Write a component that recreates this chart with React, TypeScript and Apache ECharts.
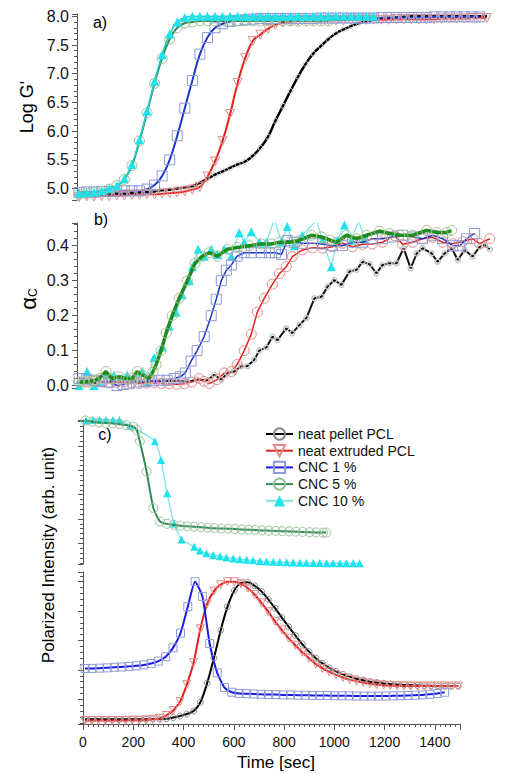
import React, { useEffect, useRef } from "react";
import * as echarts from "echarts";

const NAMES = ["neat pellet PCL", "neat extruded PCL", "CNC 1 %", "CNC 5 %", "CNC 10 %"];

// ---------- panel a) Log G' ----------
const timeA = [8, 38, 68, 98, 128, 158, 188, 218, 248, 278, 308, 338, 368, 398, 428, 458, 488, 518, 548, 578,
  608, 638, 668, 698, 728, 758, 788, 818, 848, 878, 908, 938, 968, 998, 1028, 1058, 1088, 1118, 1148, 1178,
  1208, 1238, 1268, 1298, 1328, 1358, 1388, 1418, 1448, 1478, 1508, 1538, 1568, 1598, 1628];
const logG_pellet = [4.86, 4.87, 4.88, 4.89, 4.9, 4.91, 4.91, 4.92, 4.93, 4.94, 4.95, 4.97, 4.98, 5.0, 5.02, 5.04,
  5.1, 5.17, 5.24, 5.3, 5.36, 5.42, 5.47, 5.57, 5.71, 5.9, 6.18, 6.44, 6.7, 6.95, 7.17, 7.35, 7.48, 7.6, 7.7, 7.77,
  7.83, 7.88, 7.91, 7.94, 7.96, 7.97, 7.98, 7.99, 8.0, 8.0, 8.0, 8.0, 8.0, 8.0, 8.0, 8.0, 8.0, 8.0, 8.0];
const logG_extruded = [4.85, 4.86, 4.86, 4.87, 4.87, 4.88, 4.88, 4.89, 4.89, 4.9, 4.9, 4.91, 4.92, 4.93, 4.95, 4.98,
  5.03, 5.21, 5.47, 5.83, 6.3, 6.84, 7.27, 7.57, 7.68, 7.78, 7.85, 7.89, 7.91, 7.92, 7.93, 7.93, 7.93, 7.93, 7.93,
  7.93, 7.94, 7.94, 7.94, 7.94, 7.94, 7.94, 7.95, 7.95, 7.95, 7.95, 7.95, 7.95, 7.96, 7.96, 7.96, 7.96, 7.97, 7.97, 7.97];
const logG_cnc1 = [4.93, 4.94, 4.94, 4.95, 4.95, 4.95, 4.96, 4.96, 4.96, 4.99, 5.06, 5.22, 5.5, 5.92, 6.4, 6.88, 7.34,
  7.63, 7.8, 7.87, 7.91, 7.93, 7.94, 7.95, 7.96, 7.96, 7.96, 7.96, 7.96, 7.96, 7.96, 7.96, 7.97, 7.97, 7.97, 7.97,
  7.97, 7.97, 7.97, 7.97, 7.98, 7.98, 7.98, 7.98, 7.98, 7.98, 7.98, 7.99, 7.99, 7.99, 7.99, 7.99, 7.99, 7.99];
const logG_cnc5 = [4.9, 4.92, 4.93, 4.95, 4.99, 5.05, 5.16, 5.4, 5.83, 6.32, 6.83, 7.27, 7.6, 7.8, 7.88, 7.9, 7.92,
  7.92, 7.92, 7.92, 7.92, 7.92, 7.92, 7.92, 7.92, 7.92, 7.92, 7.92, 7.92, 7.92, 7.92, 7.92, 7.92, 7.92];
const logG_cnc10 = [4.92, 4.93, 4.94, 4.96, 5.0, 5.05, 5.17, 5.42, 5.85, 6.35, 6.87, 7.33, 7.69, 7.9, 7.98, 8.0, 8.0,
  8.0, 8.0, 8.0, 8.0, 8.0, 8.0, 8.0, 8.0, 8.0, 8.0, 8.0, 8.0, 8.0, 8.0, 8.0, 8.0, 8.0, 8.0, 8.0, 8.0, 8.0, 8.0, 8.0];

// ---------- panel b) alpha_c : [time, value] ----------
const alpha_pellet = [[8, 0.01], [40, 0.012], [72, 0.008], [104, 0.01], [136, 0.012], [168, 0.01], [200, 0.009],
  [232, 0.012], [264, 0.01], [296, 0.012], [326, 0.012], [356, 0.013], [386, 0.014], [438, 0.011], [477, 0.017],
  [517, 0.015], [545, 0.031], [573, 0.017], [597, 0.036], [625, 0.04], [652, 0.055], [676, 0.055], [704, 0.074],
  [724, 0.1], [752, 0.109], [776, 0.14], [796, 0.13], [831, 0.164], [855, 0.15], [883, 0.173], [911, 0.193],
  [943, 0.25], [971, 0.254], [995, 0.283], [1022, 0.302], [1050, 0.288], [1082, 0.326], [1110, 0.331],
  [1134, 0.354], [1162, 0.347], [1189, 0.321], [1213, 0.345], [1241, 0.35], [1269, 0.35], [1297, 0.393],
  [1325, 0.335], [1349, 0.378], [1372, 0.393], [1408, 0.378], [1432, 0.354], [1460, 0.378], [1488, 0.393],
  [1512, 0.359], [1539, 0.388], [1571, 0.369], [1599, 0.397], [1619, 0.402], [1639, 0.39]];
const alpha_extruded = [[8, 0.01], [38, 0.011], [68, 0.012], [98, 0.01], [127, 0.008], [157, 0.009], [187, 0.01],
  [217, 0.008], [247, 0.006], [276, 0.007], [306, 0.008], [336, 0.006], [366, 0.005], [396, 0.004], [426, 0.005],
  [456, 0.01], [485, 0.02], [505, 0.012], [525, 0.006], [557, 0.017], [585, 0.036], [613, 0.04], [636, 0.06],
  [664, 0.1], [692, 0.147], [716, 0.21], [744, 0.25], [776, 0.29], [804, 0.32], [831, 0.34], [855, 0.369],
  [895, 0.388], [935, 0.394], [975, 0.393], [1014, 0.397], [1054, 0.407], [1094, 0.397], [1134, 0.404],
  [1173, 0.405], [1213, 0.41], [1261, 0.429], [1293, 0.404], [1333, 0.41], [1372, 0.42], [1412, 0.424],
  [1452, 0.41], [1492, 0.406], [1531, 0.412], [1571, 0.42], [1599, 0.406], [1639, 0.42]];
const alpha_cnc1 = [[8, 0.02], [38, 0.018], [68, 0.015], [98, 0.012], [127, 0.01], [159, 0.0], [183, 0.003],
  [207, 0.005], [236, 0.01], [266, 0.012], [296, 0.014], [326, 0.015], [358, 0.015], [386, 0.02], [410, 0.025],
  [430, 0.036], [453, 0.07], [477, 0.1], [505, 0.14], [533, 0.2], [553, 0.247], [573, 0.3], [593, 0.33],
  [613, 0.345], [636, 0.37], [664, 0.38], [692, 0.38], [732, 0.38], [764, 0.38], [788, 0.38], [812, 0.375],
  [835, 0.415], [863, 0.41], [895, 0.407], [935, 0.407], [975, 0.405], [1014, 0.4], [1054, 0.4], [1094, 0.41],
  [1134, 0.41], [1173, 0.42], [1213, 0.42], [1253, 0.425], [1293, 0.43], [1333, 0.425], [1372, 0.42],
  [1412, 0.43], [1452, 0.42], [1492, 0.4], [1520, 0.4], [1547, 0.42], [1579, 0.435]];
const alpha_cnc5 = [[8, 0.01], [28, 0.01], [48, 0.01], [68, 0.015], [88, 0.02], [115, 0.04], [139, 0.02],
  [167, 0.025], [195, 0.02], [219, 0.02], [239, 0.04], [259, 0.03], [286, 0.02], [302, 0.04], [314, 0.06],
  [334, 0.1], [354, 0.15], [378, 0.2], [406, 0.25], [438, 0.3], [469, 0.35], [497, 0.37], [525, 0.38],
  [557, 0.37], [597, 0.39], [636, 0.395], [684, 0.4], [732, 0.405], [772, 0.405], [804, 0.41], [843, 0.41],
  [883, 0.415], [931, 0.43], [971, 0.425], [1006, 0.416], [1030, 0.41], [1070, 0.43], [1110, 0.42],
  [1150, 0.43], [1201, 0.442], [1241, 0.435], [1281, 0.43], [1333, 0.43], [1388, 0.444], [1428, 0.438],
  [1468, 0.438], [1488, 0.444]];
const alpha_cnc10 = [[8, 0.0], [40, 0.04], [68, 0.0], [91, 0.01], [119, 0.03], [147, 0.03], [175, 0.02],
  [199, 0.03], [227, 0.025], [259, 0.04], [278, 0.01], [306, 0.08], [338, 0.11], [366, 0.17], [394, 0.21],
  [418, 0.26], [446, 0.3], [458, 0.34], [481, 0.39], [505, 0.37], [533, 0.39], [557, 0.375], [585, 0.39],
  [613, 0.37], [644, 0.437], [664, 0.41], [692, 0.44], [724, 0.41], [752, 0.41], [784, 0.476], [812, 0.41],
  [835, 0.455], [863, 0.4], [895, 0.43], [951, 0.473], [975, 0.416], [1010, 0.34], [1034, 0.416],
  [1062, 0.459], [1090, 0.416], [1118, 0.473], [1142, 0.42]];

// ---------- panel c) polarized intensity (arb. unit) ----------
const timeC = [8, 35, 62, 89, 116, 143, 170, 197, 224, 251, 278, 305, 332, 359, 386, 413, 440, 467, 494, 521, 548,
  575, 602, 629, 656, 683, 710, 737, 764, 791, 818, 845, 872, 899, 926, 953, 980, 1007, 1034, 1061, 1088, 1115,
  1142, 1169, 1196, 1223, 1250, 1277, 1304, 1331, 1358, 1385, 1412, 1439, 1466, 1493];
const pi_pellet = [-0.68, -0.68, -0.68, -0.68, -0.68, -0.68, -0.68, -0.68, -0.68, -0.68, -0.67, -0.67, -0.66, -0.62,
  -0.57, -0.5, -0.4, -0.1, 0.55, 1.4, 2.35, 3.15, 3.7, 3.96, 3.98, 3.86, 3.67, 3.4, 3.1, 2.78, 2.47, 2.17, 1.88, 1.62,
  1.4, 1.22, 1.07, 0.95, 0.85, 0.77, 0.7, 0.65, 0.6, 0.57, 0.54, 0.52, 0.5, 0.49, 0.48, 0.47, 0.46, 0.46, 0.45, 0.45,
  0.45, 0.45];
const pi_extruded = [-0.72, -0.72, -0.72, -0.72, -0.72, -0.72, -0.72, -0.71, -0.71, -0.7, -0.68, -0.65, -0.55, -0.38,
  -0.08, 0.5, 1.25, 2.4, 3.25, 3.68, 3.9, 4.0, 4.0, 3.93, 3.78, 3.56, 3.28, 2.98, 2.65, 2.36, 2.08, 1.84, 1.6, 1.4,
  1.2, 1.05, 0.93, 0.83, 0.74, 0.67, 0.61, 0.57, 0.53, 0.5, 0.48, 0.47, 0.46, 0.45, 0.45, 0.45, 0.45, 0.45, 0.45,
  0.45, 0.45, 0.45];
const timeC1 = [8, 37, 66, 96, 125, 154, 183, 212, 242, 271, 300, 329, 358, 388, 417, 446, 475, 504, 534, 563, 592,
  621, 650, 680, 709, 738, 767, 796, 826, 855, 884, 913, 942, 972, 1001, 1030, 1059, 1088, 1118, 1147, 1176, 1205,
  1234, 1264, 1293, 1322, 1351, 1380, 1410, 1439];
const pi_cnc1 = [1.05, 1.05, 1.06, 1.07, 1.09, 1.1, 1.12, 1.14, 1.17, 1.22, 1.3, 1.45, 1.75, 2.25, 3.15, 4.0, 3.5,
  1.9, 0.9, 0.4, 0.24, 0.2, 0.19, 0.18, 0.17, 0.16, 0.16, 0.15, 0.15, 0.14, 0.14, 0.13, 0.13, 0.13, 0.12, 0.12,
  0.12, 0.11, 0.11, 0.11, 0.11, 0.11, 0.12, 0.12, 0.13, 0.14, 0.15, 0.17, 0.2, 0.24];
const timeC5 = [10, 37, 64, 91, 118, 145, 172, 199, 214, 226, 253, 280, 307, 334, 361, 388, 415, 442, 469, 496, 523,
  550, 577, 604, 631, 658, 685, 712, 739, 766, 793, 820, 847, 874, 901, 928, 955, 968];
const pi_cnc5 = [5.05, 5.0, 4.97, 4.95, 4.93, 4.9, 4.86, 4.8, 4.66, 4.2, 2.95, 1.45, 0.89, 0.8, 0.76, 0.72, 0.7,
  0.68, 0.66, 0.64, 0.62, 0.61, 0.6, 0.59, 0.57, 0.56, 0.55, 0.53, 0.52, 0.51, 0.5, 0.49, 0.48, 0.47, 0.46, 0.45,
  0.44, 0.44];
const timeC10 = [12, 40, 66, 92, 119, 145, 187, 286, 310, 335, 362, 392, 443, 465, 491, 518, 545, 571, 598, 624, 651,
  677, 704, 730, 757, 783, 810, 836, 863, 889, 916, 942, 969, 995, 1022, 1048, 1075, 1101];
const pi_cnc10 = [5.05, 5.07, 5.07, 5.07, 5.07, 5.07, 4.83, 4.2, 3.43, 2.06, 0.82, 0.16, -0.14, -0.3, -0.41, -0.48,
  -0.53, -0.58, -0.62, -0.65, -0.68, -0.7, -0.73, -0.75, -0.76, -0.77, -0.78, -0.79, -0.8, -0.8, -0.81, -0.81,
  -0.82, -0.82, -0.82, -0.82, -0.82, -0.82];

const FONT = "'Liberation Sans', Arial, sans-serif";
const AXIS_COLOR = "#555";

const COL = {
  black: "#000000",
  red: "#e2201c",
  blue: "#1c36c8",
  green: "#2e8b57",
  greenB: "#1f8c1f",
  cyan: "#7fe4e8",
  cyanFill: "#1fe3ec",
  redMk: "#e48a8a",
  blueMk: "#8d9bd6",
  greenMk: "#9cbf98",
};

const zip = (t: number[], v: number[]) => v.map((y, i) => [t[i], y]);

function yAxisBase(gridIndex: number, min: number, max: number, labels: boolean) {
  return {
    type: "value",
    gridIndex,
    min,
    max,
    axisLine: { show: true, onZero: false, lineStyle: { color: AXIS_COLOR, width: 1 } },
    axisTick: { show: true, inside: false, length: 5, lineStyle: { color: AXIS_COLOR } },
    minorTick: { show: true, splitNumber: 5, length: 3, lineStyle: { color: AXIS_COLOR } },
    splitLine: { show: false },
    axisLabel: labels
      ? {
          show: true,
          showMinLabel: false,
          showMaxLabel: false,
          fontSize: 16,
          fontFamily: FONT,
          color: "#111",
          margin: 8,
          formatter: (v: number) => v.toFixed(1),
        }
      : { show: false },
  };
}

function hollow(symbol: string, size: number, border: string, rotate = 0, bw = 1) {
  return {
    symbol,
    symbolSize: size,
    symbolRotate: rotate,
    showSymbol: true,
    itemStyle: { color: "rgba(255,255,255,0)", borderColor: border, borderWidth: bw },
  };
}
function filled(symbol: string, size: number, fill: string) {
  return {
    symbol,
    symbolSize: size,
    showSymbol: true,
    itemStyle: { color: fill, borderWidth: 0 },
  };
}

function line(name: string, grid: number, data: any[], color: string, width: number, mk: any, smooth: any = false, z = 2) {
  return {
    type: "line",
    name,
    xAxisIndex: grid,
    yAxisIndex: grid,
    data,
    smooth,
    z,
    lineStyle: { color, width },
    emphasis: { disabled: true },
    ...mk,
  };
}

export default function App() {
  const ref = useRef<HTMLDivElement>(null);
  useEffect(() => {
    if (!ref.current) return;
    const chart = echarts.init(ref.current, undefined, { renderer: "svg" });
    const series: any[] = [
      // panel c (first so that the legend picks these styles)
      line(NAMES[0], 3, zip(timeC, pi_pellet), COL.black, 2, hollow("circle", 6, "#8a8a8a"), 0.3, 3),
      line(NAMES[1], 3, zip(timeC, pi_extruded), COL.red, 2, hollow("triangle", 8, COL.redMk, 180), 0.3, 3),
      line(NAMES[2], 3, zip(timeC1, pi_cnc1), "#1a1ae6", 2, hollow("rect", 8, COL.blueMk), 0.2, 3),
      line(NAMES[3], 2, zip(timeC5, pi_cnc5), COL.green, 2, hollow("circle", 9, COL.greenMk), 0.2, 3),
      line(NAMES[4], 2, zip(timeC10, pi_cnc10), COL.cyan, 1.3, filled("triangle", 8, COL.cyanFill), 0.2, 2),
      // panel a
      line(NAMES[0], 0, zip(timeA, logG_pellet), COL.black, 2.5, hollow("circle", 5, "#cfcfcf"), true, 3),
      line(NAMES[1], 0, zip(timeA, logG_extruded), COL.red, 2, hollow("triangle", 9, COL.redMk, 180), true, 3),
      line(NAMES[2], 0, zip(timeA, logG_cnc1), COL.blue, 2, hollow("rect", 10, COL.blueMk), true, 3),
      line(NAMES[3], 0, zip(timeA, logG_cnc5), COL.green, 2, hollow("circle", 10, COL.greenMk), true, 3),
      line(NAMES[4], 0, zip(timeA, logG_cnc10), "#22ccd4", 1.5, filled("triangle", 9, COL.cyanFill), true, 4),
      // panel b
      line(NAMES[0], 1, alpha_pellet, "#111", 2, hollow("circle", 5, "#c8c8c8", 0, 1.5), false, 3),
      line(NAMES[1], 1, alpha_extruded, COL.red, 1.5, hollow("circle", 10, COL.redMk), false, 3),
      line(NAMES[2], 1, alpha_cnc1, COL.blue, 1.5, hollow("rect", 10, COL.blueMk), false, 3),
      line(NAMES[3], 1, alpha_cnc5, COL.greenB, 3.5, hollow("circle", 10, "#a8c090"), false, 4),
      line(NAMES[4], 1, alpha_cnc10, COL.cyan, 1.2, filled("triangle", 9, COL.cyanFill), false, 2),
    ];

    const txt = (text: string, x: number, y: number, size: number, rot = 0) => ({
      type: "text",
      x,
      y,
      rotation: rot,
      silent: true,
      style: {
        text,
        fill: "#000",
        font: `${size}px ${FONT}`,
        align: "center",
        verticalAlign: "middle",
        textAlign: "center",
        textVerticalAlign: "middle",
      },
    });

    const alphaLabel = {
      type: "text",
      x: 28,
      y: 299,
      rotation: Math.PI / 2,
      silent: true,
      style: {
        text: "{a|\u03b1}{c|C}",
        fill: "#000",
        align: "center",
        verticalAlign: "middle",
        textAlign: "center",
        textVerticalAlign: "middle",
        rich: {
          a: { fontSize: 22, fontFamily: FONT, fill: "#000", lineHeight: 22 },
          c: { fontSize: 12, fontFamily: FONT, fill: "#000", verticalAlign: "bottom", lineHeight: 12 },
        },
      },
    };

    chart.setOption({
      animation: false,
      backgroundColor: "#ffffff",
      textStyle: { fontFamily: FONT },
      grid: [
        { left: 77, top: 14, width: 413, height: 186 },
        { left: 77, top: 223, width: 413, height: 165 },
        { left: 83, top: 420, width: 377, height: 144 },
        { left: 83, top: 572, width: 377, height: 152 },
      ],
      xAxis: [
        { type: "value", gridIndex: 0, min: 0, max: 1640, show: false },
        { type: "value", gridIndex: 1, min: 0, max: 1640, show: false },
        { type: "value", gridIndex: 2, min: 0, max: 1500, show: false },
        {
          type: "value",
          gridIndex: 3,
          min: 0,
          max: 1500,
          interval: 200,
          axisLine: { show: true, onZero: false, lineStyle: { color: AXIS_COLOR } },
          axisTick: { show: true, inside: false, length: 6, lineStyle: { color: AXIS_COLOR } },
          minorTick: { show: true, splitNumber: 10, length: 3, lineStyle: { color: AXIS_COLOR } },
          splitLine: { show: false },
          axisLabel: {
            show: true,
            showMaxLabel: false,
            fontSize: 14,
            fontFamily: FONT,
            color: "#111",
            margin: 11,
            formatter: (v: number) => String(v),
          },
        },
      ],
      yAxis: [
        yAxisBase(0, 4.8, 8.04, true),
        yAxisBase(1, -0.007, 0.465, true),
        yAxisBase(2, -0.85, 5.07, false),
        yAxisBase(3, -0.84, 4.33, false),
      ],
      legend: {
        data: NAMES,
        orient: "vertical",
        left: 265,
        top: 427,
        padding: 0,
        itemWidth: 27,
        itemHeight: 14,
        itemGap: 2.7,
        selectedMode: false,
        textStyle: { fontSize: 14, fontFamily: FONT, color: "#111", lineHeight: 14 },
      },
      graphic: [
        txt("Log G'", 27, 107, 18, Math.PI / 2),
        alphaLabel,
        txt("Polarized Intensity (arb. unit)", 48, 555, 17, Math.PI / 2),
        txt("Time [sec]", 276, 762, 17),
        txt("a)", 100, 22, 16),
        txt("b)", 101, 219, 16),
        txt("c)", 105, 434, 16),
      ],
      series,
    });
    return () => chart.dispose();
  }, []);
  return (
    <div
      ref={ref}
      style={{ position: "fixed", left: 0, top: 0, width: 509, height: 774, background: "#fff" }}
    />
  );
}
